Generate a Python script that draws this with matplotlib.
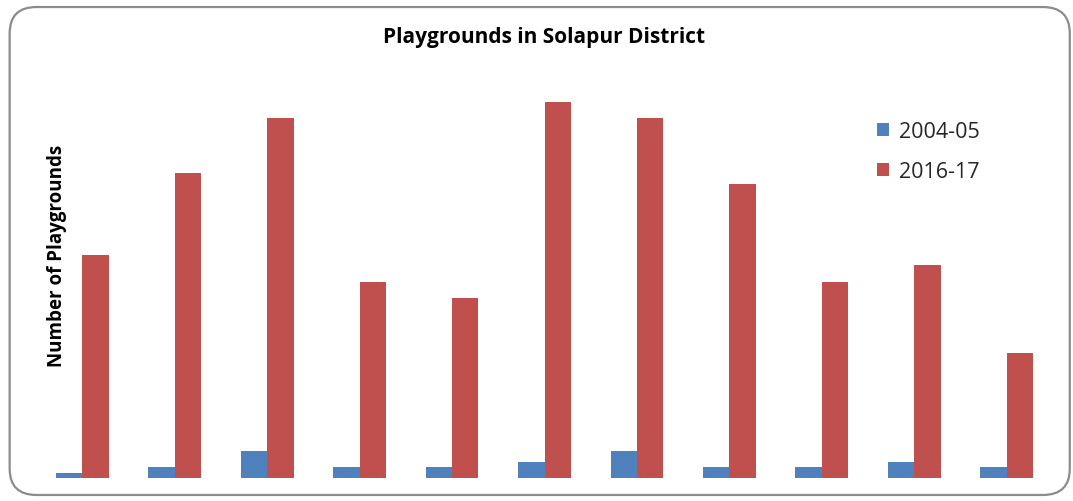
import numpy as np
import matplotlib.pyplot as plt
from matplotlib.patches import FancyBboxPatch, Patch

# Values (no axis ticks in the original)
talukas = ['1', '2', '3', '4', '5', '6', '7', '8', '9', '10', '11']
y2004 = [1, 2, 5, 2, 2, 3, 5, 2, 2, 3, 2]
y2016 = [41, 56, 66, 36, 33, 69, 66, 54, 36, 39, 23]

blue = '#4F81BD'
red = '#C0504D'

fig = plt.figure(figsize=(10.73, 5.02), dpi=100)

# rounded chart border like the Excel chart area
border = FancyBboxPatch((0.009, 0.012), 0.988, 0.972,
                        boxstyle='round,pad=0,rounding_size=0.025',
                        transform=fig.transFigure, facecolor='none',
                        edgecolor='#8c8c8c', linewidth=1.6, mutation_aspect=2.1,
                        zorder=-1)
fig.patches.append(border)

ax = fig.add_axes([36 / 1073, 23 / 502, 1017 / 1073, 410 / 502])
ax.set_facecolor('none')

x = np.arange(len(talukas))
w = 0.286
ax.bar(x - w / 2, y2004, width=w, color=blue, label='2004-05')
ax.bar(x + w / 2, y2016, width=w, color=red, label='2016-17')

ax.set_xlim(-0.5, len(talukas) - 0.5)
ax.set_ylim(0, 410 / 5.45)
ax.set_xticks([])
ax.set_yticks([])
for s in ax.spines.values():
    s.set_visible(False)

fig.text(544 / 1073, 1 - 38 / 502, 'Playgrounds in Solapur District',
         ha='center', va='center', fontsize=15, fontweight='bold',
         family='Open Sans')
fig.text(57 / 1073, 1 - 256 / 502, 'Number of Playgrounds', rotation=90,
         ha='center', va='center', fontsize=13.5, fontweight='bold',
         family='Open Sans')

handles = [Patch(facecolor=blue), Patch(facecolor=red)]
leg = fig.legend(handles, ['2004-05', '2016-17'], loc='upper left',
                 bbox_to_anchor=(858 / 1073, 1 - 103 / 502), frameon=False,
                 prop={'family': 'Open Sans', 'size': 15.5},
                 handlelength=0.55, handleheight=0.55, handletextpad=0.45,
                 labelspacing=0.85, labelcolor='#262626')

fig.savefig('out.png', dpi=100)
